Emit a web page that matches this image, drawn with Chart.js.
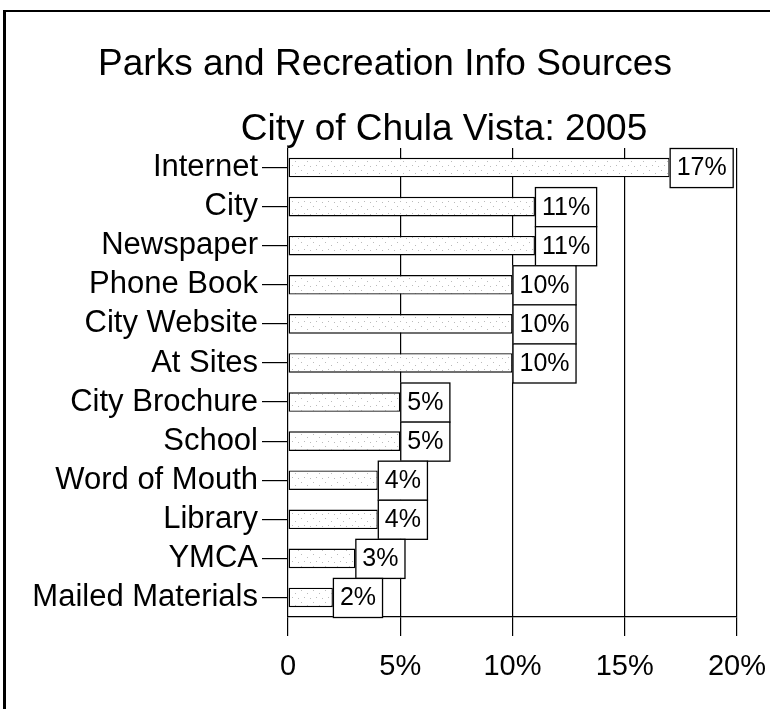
<!DOCTYPE html>
<html><head><meta charset="utf-8">
<script src="https://cdn.jsdelivr.net/npm/chart.js@4/dist/chart.umd.min.js"></script>
<style>html,body{margin:0;padding:0;background:#fff}#wrap{width:770px;height:709px;position:relative}</style>
</head><body><div id="wrap"><canvas id="c" width="770" height="709"></canvas></div>
<script>
const titleLines = ["Parks and Recreation Info Sources", "City of Chula Vista: 2005"];
const categories = ["Internet","City","Newspaper","Phone Book","City Website","At Sites","City Brochure","School","Word of Mouth","Library","YMCA","Mailed Materials"];
const values = [17,11,11,10,10,10,5,5,4,4,3,2];
const tickValues = [0,5,10,15,20];

const FONT = "'Liberation Sans', Arial, sans-serif";

// light stipple pattern
const pc = document.createElement('canvas'); pc.width = 12; pc.height = 12;
const pctx = pc.getContext('2d');
pctx.fillStyle = '#fff'; pctx.fillRect(0,0,12,12);
pctx.fillStyle = '#bbb';
[[1,2],[7,5],[4,9],[10,10]].forEach(p=>pctx.fillRect(p[0],p[1],1,1));
const pattern = pctx.createPattern(pc,'repeat');

const framePlugin = {
  id:'frame',
  beforeDraw(chart){
    const ctx = chart.ctx;
    ctx.save();
    ctx.fillStyle='#fff'; ctx.fillRect(0,0,chart.width,chart.height);
    ctx.fillStyle='#000';
    ctx.fillRect(3,10,3,chart.height-10);
    ctx.fillRect(3,10,chart.width-3,2);
    ctx.font = "37px " + FONT;
    ctx.textBaseline='alphabetic';
    ctx.textAlign='center';
    ctx.fillText(titleLines[0], 385, 75);
    ctx.fillText(titleLines[1], 444, 140);
    ctx.restore();
  }
};

const boxPlugin = {
  id:'boxes',
  afterDatasetsDraw(chart){
    const ctx = chart.ctx;
    const meta = chart.getDatasetMeta(0);
    const ys = chart.scales.y;
    const band = (ys.getPixelForValue(1) - ys.getPixelForValue(0));
    ctx.save();
    ctx.font = "25px " + FONT;
    meta.data.forEach((el,i)=>{
      const txt = values[i] + '%';
      const w = ctx.measureText(txt).width + 13;
      const x = el.x, top = el.y - band/2;
      ctx.fillStyle='#fff';
      ctx.fillRect(x, top, w, band);
      ctx.strokeStyle='#000'; ctx.lineWidth=1.3;
      ctx.strokeRect(x+0.5, top+0.5, w, band);
      ctx.fillStyle='#000'; ctx.textAlign='center'; ctx.textBaseline='middle';
      ctx.fillText(txt, x + w/2 + 0.5, el.y + 1);
    });
    ctx.restore();
  }
};

new Chart(document.getElementById('c'), {
  type:'bar',
  data:{ labels: categories, datasets:[{ data: values, backgroundColor: pattern, borderColor:'#000', borderWidth:1.4, borderSkipped:false, categoryPercentage:1, barPercentage:0.5 }]},
  options:{
    indexAxis:'y', responsive:false, animation:false,
    layout:{ padding:{ top:148, right:33, left:0, bottom:0 } },
    plugins:{ legend:{display:false}, tooltip:{enabled:false}, title:{display:false} },
    scales:{
      x:{ min:0, max:20, afterBuildTicks(s){ s.ticks = tickValues.map(v=>({value:v})); },
        afterFit(s){ s.height = 92; s.paddingLeft = 0; s.paddingRight = 0; },
        grid:{ color:'#000', lineWidth:1.2, tickLength:19, drawOnChartArea:true },
        border:{ color:'#000', width:1.2 },
        ticks:{ color:'#000', padding:14, autoSkip:false, maxRotation:0, font:{ family:FONT, size:29 }, callback:(v)=> v===0 ? '0' : v+'%' } },
      y:{ afterFit(s){ s.width = 288; s.paddingTop = 0; s.paddingBottom = 0; },
        grid:{ offset:false, drawOnChartArea:false, color:'#000', lineWidth:1.2, tickLength:26 },
        border:{ display:false },
        ticks:{ color:'#000', padding:4, autoSkip:false, font:{ family:FONT, size:31 } } }
    }
  },
  plugins:[framePlugin, boxPlugin]
});
</script></body></html>
